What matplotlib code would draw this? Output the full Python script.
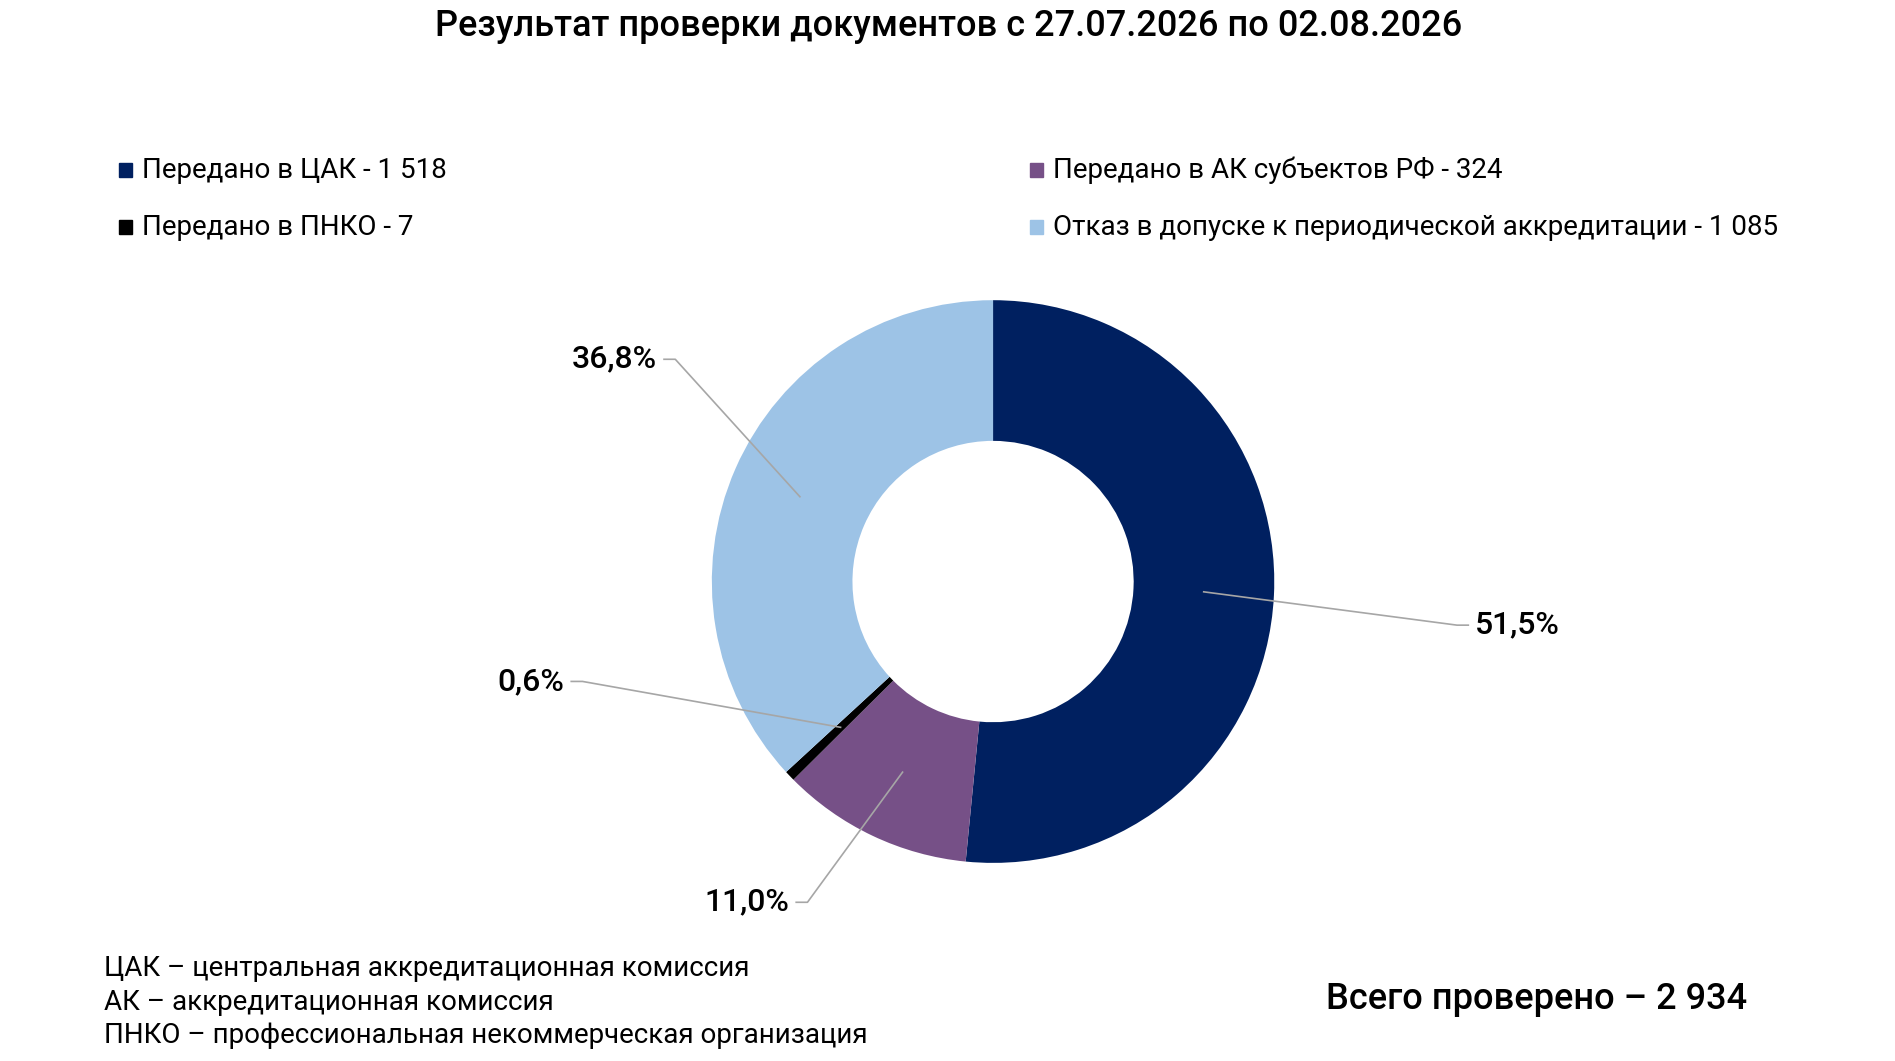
import numpy as np
import matplotlib.pyplot as plt

plt.rcParams['font.family'] = ['Roboto', 'DejaVu Sans']

# data
categories = ["Передано в ЦАК", "Передано в АК субъектов РФ", "Передано в ПНКО",
              "Отказ в допуске к периодической аккредитации"]
counts = [1518, 324, 7, 1085]
shares = [51.5, 11.0, 0.6, 36.8]
colors = ["#002060", "#765087", "#000000", "#9DC3E6"]
total = 2934
notes = ["ЦАК – центральная аккредитационная комиссия",
         "АК – аккредитационная комиссия",
         "ПНКО – профессиональная некоммерческая организация"]

# layout (displayed reference is 1560 x 873)
W, H = 1560.0, 873.0
CX, CY, R = 817.5, 478.5, 231.5
label_pos = [(1.69, -0.155, 'left'), (-0.70, -1.14, 'right'),
             (-1.50, -0.355, 'right'), (-1.17, 0.79, 'right')]
legend_pos = [(98, 140), (848, 140), (98, 187), (848, 187)]


def fx(x):
    return x / W


def fy(y):
    return 1 - y / H


def fmt_int(n):
    return f"{n:,}".replace(",", " ")


fig = plt.figure(figsize=(18.95, 10.61), dpi=100)
ax = fig.add_axes([0, 0, 1, 1])
wedges, _ = ax.pie(shares, colors=colors, startangle=90, counterclock=False,
                   radius=1.0, wedgeprops=dict(width=0.5, linewidth=0))
ax.set_xlim(-CX / R, (W - CX) / R)
ax.set_ylim(-(H - CY) / R, CY / R)
ax.set_aspect('auto')
ax.axis('off')

for w, s, (lx, ly, ha) in zip(wedges, shares, label_pos):
    ang = np.deg2rad((w.theta1 + w.theta2) / 2)
    px, py = 0.75 * np.cos(ang), 0.75 * np.sin(ang)
    tip = 0.04 if ha == 'left' else -0.04
    ax.plot([px, lx - tip, lx], [py, ly, ly], color="#A6A6A6", lw=1.2)
    ax.text(lx + tip * 0.6, ly, f"{s:.1f}%".replace(".", ","), ha=ha, va='center',
            fontsize=23, fontweight='medium', color='black')

fig.text(fx(781), fy(22), "Результат проверки документов с 27.07.2026 по 02.08.2026",
         ha='center', va='center', fontsize=26, fontweight='medium')

for (x, y), name, n, c in zip(legend_pos, categories, counts, colors):
    fig.patches.append(plt.Rectangle((fx(x), fy(y) - 0.0062), 11 / W, 11 / H,
                                     transform=fig.transFigure, color=c))
    fig.text(fx(x + 19), fy(y), f"{name} - {fmt_int(n)}", ha='left', va='center',
             fontsize=20)

for i, t in enumerate(notes):
    fig.text(fx(86), fy(797 + 27.5 * i), t, ha='left', va='center', fontsize=20)

fig.text(fx(1092), fy(822), f"Всего проверено – {fmt_int(total)}", ha='left',
         va='center', fontsize=26, fontweight='medium')

fig.savefig("out.png", dpi=100)
